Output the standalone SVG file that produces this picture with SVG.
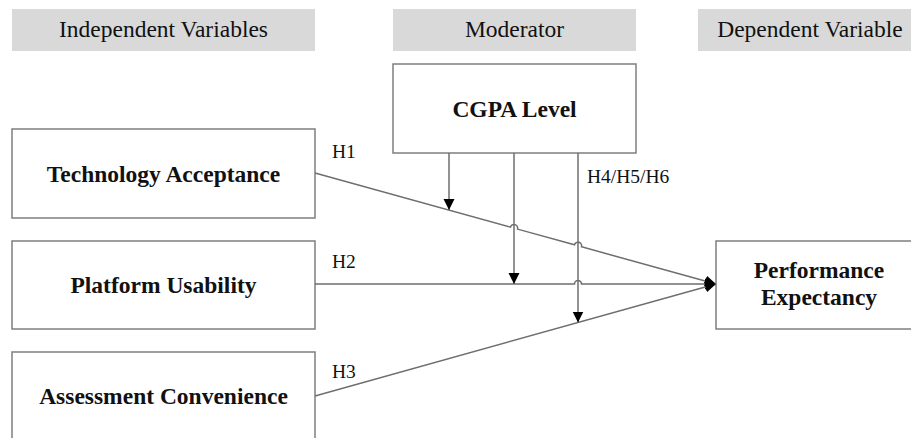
<svg xmlns="http://www.w3.org/2000/svg" width="911" height="438" viewBox="0 0 911 438">
<defs>
<style>
.hdr{fill:#d9d9d9;stroke:none}
.box{fill:#fff;stroke:#7f7f7f;stroke-width:1.5}
.ht{font-family:"Liberation Serif","Times New Roman",serif;font-size:23.5px;fill:#111;text-anchor:middle}
.bt{font-family:"Liberation Serif","Times New Roman",serif;font-size:23.5px;font-weight:bold;fill:#111;text-anchor:middle}
.lab{font-family:"Liberation Serif","Times New Roman",serif;font-size:19.5px;fill:#111}
.ln{fill:none;stroke:#6e6e6e;stroke-width:1.5}
</style>
<marker id="arr" markerUnits="userSpaceOnUse" markerWidth="12" markerHeight="12" refX="11" refY="6" orient="auto">
<path d="M0,0.5 L11,6 L0,11.5 z" fill="#000"/>
</marker>
</defs>
<g id="hdr-independent"><rect class="hdr" x="12" y="9" width="303" height="42"/><text class="ht" x="163.5" y="37">Independent Variables</text></g>
<g id="hdr-moderator"><rect class="hdr" x="393" y="9" width="243" height="42"/><text class="ht" x="514.5" y="37">Moderator</text></g>
<g id="hdr-dependent"><rect class="hdr" x="698" y="9" width="225" height="42"/><text class="ht" x="810" y="37">Dependent Variable</text></g>
<g id="cgpa"><rect class="box" x="393" y="64" width="243" height="89"/><text class="bt" x="514.5" y="117">CGPA Level</text></g>
<g id="tech"><rect class="box" x="12" y="129" width="303" height="89"/><text class="bt" x="163.5" y="182">Technology Acceptance</text></g>
<g id="platform"><rect class="box" x="12" y="241" width="303" height="88"/><text class="bt" x="163.5" y="293">Platform Usability</text></g>
<g id="assess"><rect class="box" x="12" y="352" width="303" height="100"/><text class="bt" x="163.5" y="404">Assessment Convenience</text></g>
<g id="perf"><rect class="box" x="716" y="241" width="206" height="88"/><text class="bt" x="819" y="278">Performance</text><text class="bt" x="819" y="305">Expectancy</text></g>
<g id="connectors">
<path class="ln" marker-end="url(#arr)" d="M315,173 L510.5,227.1 A3.6,3.6 0 0 1 517.5,229.1 L574.5,244.8 A3.6,3.6 0 0 1 581.5,246.8 L716,284"/>
<path class="ln" marker-end="url(#arr)" d="M315,284 L574.5,284 A3.5,3.5 0 0 1 581.5,284 L716,284"/>
<path class="ln" marker-end="url(#arr)" d="M315,396 L716,284"/>
<path class="ln" marker-end="url(#arr)" d="M449,153 L449,210"/>
<path class="ln" marker-end="url(#arr)" d="M514,153 L514,284"/>
<path class="ln" marker-end="url(#arr)" d="M578,153 L578,322.5"/>
</g>
<g id="labels">
<text class="lab" x="332" y="158">H1</text>
<text class="lab" x="332" y="268">H2</text>
<text class="lab" x="332" y="378">H3</text>
<text class="lab" x="587" y="183">H4/H5/H6</text>
</g>
</svg>
